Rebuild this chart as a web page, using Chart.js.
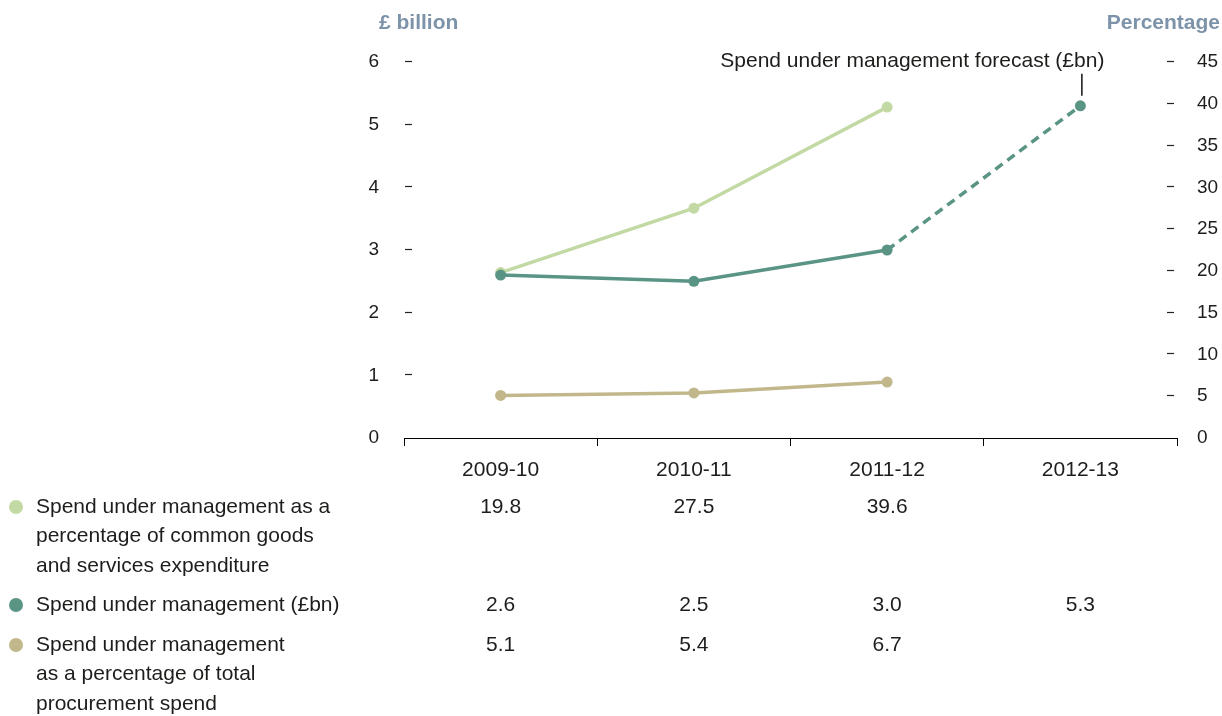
<!DOCTYPE html>
<html>
<head>
<meta charset="utf-8">
<script src="https://cdn.jsdelivr.net/npm/chart.js@4.4.0/dist/chart.umd.min.js"></script>
<style>
html,body{margin:0;padding:0;background:#fff;}
canvas{display:block;}
</style>
</head>
<body>
<canvas id="c" width="1222" height="716"></canvas>
<script>
// ---- data ----
const categories = ['2009-10', '2010-11', '2011-12', '2012-13'];
const spendBn = [2.6, 2.5, 3.0, 5.3];          // left axis, last point is forecast
const pctCommon = [19.8, 27.5, 39.6, null];     // right axis
const pctTotal = [5.1, 5.4, 6.7, null];         // right axis
const leftTickValues = [0, 1, 2, 3, 4, 5, 6];
const rightTickValues = [0, 5, 10, 15, 20, 25, 30, 35, 40, 45];
const leftAxisTitle = '£ billion';
const rightAxisTitle = 'Percentage';
const forecastLabel = 'Spend under management forecast (£bn)';
const legendCommon = ['Spend under management as a', 'percentage of common goods', 'and services expenditure'];
const legendBn = ['Spend under management (£bn)'];
const legendTotal = ['Spend under management', 'as a percentage of total', 'procurement spend'];

const COL_GREEN = '#c3d9a4';
const COL_TEAL = '#5a9485';
const COL_TAN = '#c2b78b';
const TXT = '#1d1d1b';
const FONT = "'Liberation Sans', Arial, sans-serif";

const decorPlugin = {
  id: 'decor',
  afterDraw(chart) {
    const ctx = chart.ctx;
    const x = chart.scales.x, yl = chart.scales.yl, yr = chart.scales.yr;
    ctx.save();
    // tick dashes
    ctx.strokeStyle = '#222';
    ctx.lineWidth = 1.2;
    leftTickValues.forEach(v => {
      if (v === 0) return;
      const py = Math.round(yl.getPixelForValue(v)) - 0.5;
      ctx.beginPath(); ctx.moveTo(405, py); ctx.lineTo(412, py); ctx.stroke();
    });
    rightTickValues.forEach(v => {
      if (v === 0) return;
      const py = Math.round(yr.getPixelForValue(v)) - 0.5;
      ctx.beginPath(); ctx.moveTo(1167, py); ctx.lineTo(1174, py); ctx.stroke();
    });
    // axis titles
    ctx.fillStyle = '#7c93a9';
    ctx.font = "bold 21px " + FONT;
    ctx.textBaseline = 'middle';
    ctx.textAlign = 'left';
    ctx.fillText(leftAxisTitle, 379, 23);
    ctx.textAlign = 'right';
    ctx.fillText(rightAxisTitle, 1220, 23);
    // forecast annotation
    const fx = x.getPixelForValue(3);
    const fy = yl.getPixelForValue(spendBn[3]);
    ctx.strokeStyle = '#111';
    ctx.lineWidth = 1.5;
    ctx.beginPath(); ctx.moveTo(fx + 1.5, fy - 10); ctx.lineTo(fx + 1.5, fy - 32); ctx.stroke();
    ctx.fillStyle = TXT;
    ctx.font = "21px " + FONT;
    ctx.textAlign = 'right';
    ctx.fillText(forecastLabel, fx + 24, fy - 45);
    // legend table
    const rows = [
      {color: COL_GREEN, lines: legendCommon, vals: pctCommon, y: 507},
      {color: COL_TEAL, lines: legendBn, vals: spendBn, y: 605},
      {color: COL_TAN, lines: legendTotal, vals: pctTotal, y: 645}
    ];
    rows.forEach(r => {
      ctx.fillStyle = r.color;
      ctx.beginPath(); ctx.arc(16, r.y, 7, 0, Math.PI * 2); ctx.fill();
      ctx.fillStyle = TXT;
      ctx.textAlign = 'left';
      r.lines.forEach((ln, i) => ctx.fillText(ln, 36, r.y + i * 29.4));
      ctx.textAlign = 'center';
      r.vals.forEach((v, i) => {
        if (v === null) return;
        ctx.fillText(v.toFixed(1), x.getPixelForValue(i), r.y);
      });
    });
    ctx.restore();
  }
};

new Chart(document.getElementById('c'), {
  type: 'line',
  data: {
    labels: categories,
    datasets: [
      {
        label: 'Spend under management (£bn)',
        data: spendBn,
        yAxisID: 'yl',
        borderColor: COL_TEAL,
        backgroundColor: COL_TEAL,
        borderWidth: 3.5,
        pointRadius: 5.5,
        pointBorderWidth: 0,
        tension: 0,
        segment: {
          borderDash: c => (c.p1DataIndex === 3 ? [9, 6] : undefined)
        }
      },
      {
        label: 'Spend under management as a percentage of common goods and services expenditure',
        data: pctCommon,
        yAxisID: 'yr',
        borderColor: COL_GREEN,
        backgroundColor: COL_GREEN,
        borderWidth: 3.5,
        pointRadius: 5.5,
        pointBorderWidth: 0,
        tension: 0
      },
      {
        label: 'Spend under management as a percentage of total procurement spend',
        data: pctTotal,
        yAxisID: 'yr',
        borderColor: COL_TAN,
        backgroundColor: COL_TAN,
        borderWidth: 3.5,
        pointRadius: 5.5,
        pointBorderWidth: 0,
        tension: 0
      }
    ]
  },
  options: {
    responsive: false,
    animation: false,
    layout: {padding: {top: 62, left: 0, right: 0, bottom: 0}},
    plugins: {legend: {display: false}, tooltip: {enabled: false}},
    scales: {
      x: {
        type: 'category',
        offset: true,
        grid: {offset: true, drawOnChartArea: false, drawTicks: true, tickLength: 8, color: '#000', lineWidth: 1},
        border: {display: true, color: '#000', width: 1},
        ticks: {font: {family: FONT, size: 21}, color: TXT, padding: 12, maxRotation: 0},
        afterFit: s => { s.height = 278; }
      },
      yl: {
        type: 'linear',
        position: 'left',
        min: 0, max: 6,
        afterBuildTicks: s => { s.ticks = leftTickValues.map(v => ({value: v})); },
        grid: {display: false},
        border: {display: false},
        ticks: {font: {family: FONT, size: 19}, color: TXT, padding: 17},
        afterFit: s => { s.width = 404; }
      },
      yr: {
        type: 'linear',
        position: 'right',
        min: 0, max: 45,
        afterBuildTicks: s => { s.ticks = rightTickValues.map(v => ({value: v})); },
        grid: {display: false},
        border: {display: false},
        ticks: {font: {family: FONT, size: 19}, color: TXT, padding: 12},
        afterFit: s => { s.width = 45; }
      }
    }
  },
  plugins: [decorPlugin]
});
</script>
</body>
</html>
